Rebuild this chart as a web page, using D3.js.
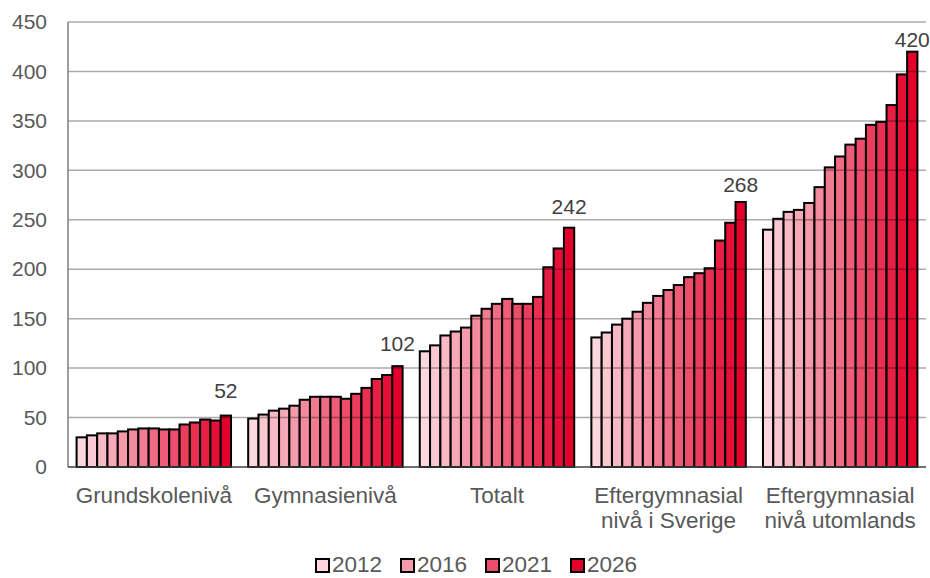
<!DOCTYPE html>
<html>
<head>
<meta charset="utf-8">
<script src="https://cdn.jsdelivr.net/npm/d3@7/dist/d3.min.js"></script>
<style>
  html, body { margin: 0; padding: 0; background: #fff; }
  svg text { font-family: "Liberation Sans", Arial, sans-serif; }
</style>
</head>
<body>
<svg id="chart" width="930" height="578"></svg>
<script>
const categories = [
  ["Grundskolenivå"],
  ["Gymnasienivå"],
  ["Totalt"],
  ["Eftergymnasial", "nivå i Sverige"],
  ["Eftergymnasial", "nivå utomlands"]
];
const years = [2012, 2013, 2014, 2015, 2016, 2017, 2018, 2019, 2020, 2021, 2022, 2023, 2024, 2025, 2026];
const grundskola = [30, 32, 34, 34, 36, 38, 39, 39, 38, 38, 43, 45, 48, 47, 52];
const gymnasium = [49, 53, 57, 59, 62, 68, 71, 71, 71, 69, 74, 80, 89, 93, 102];
const totalt = [117, 123, 133, 137, 141, 153, 160, 165, 170, 165, 165, 172, 202, 221, 242];
const eftergymSverige = [131, 136, 144, 150, 157, 166, 173, 179, 184, 192, 196, 201, 229, 247, 268];
const eftergymUtomlands = [240, 251, 258, 260, 267, 283, 303, 314, 326, 332, 346, 349, 366, 397, 420];
const seriesByCategory = [grundskola, gymnasium, totalt, eftergymSverige, eftergymUtomlands];
const yTicks = [0, 50, 100, 150, 200, 250, 300, 350, 400, 450];
const legendYears = [2012, 2016, 2021, 2026];

const svg = d3.select("#chart");
const textColor = "#595959";
const fontSize = 21;
const bigFont = 22.5;
const labelGaps = [18, 15, 14, 10, 5];

const x0 = d3.scaleBand().domain(d3.range(categories.length)).range([68, 926])
  .paddingInner(0.1).paddingOuter(0.05);
const x1 = d3.scaleBand().domain(years).range([0, x0.bandwidth()]).padding(0);
const y = d3.scaleLinear().domain([0, 450]).range([467, 22]);
const color = d3.scaleLinear().domain([2012, 2026])
  .range(["#fcd7de", "#e3002b"]).interpolate(d3.interpolateRgb);

// y axis
const yAxis = d3.axisLeft(y).tickValues(yTicks).tickSize(0).tickPadding(21);
const gy = svg.append("g").attr("transform", "translate(68,0)").call(yAxis);
gy.select(".domain").remove();
gy.selectAll("text").attr("fill", textColor).style("font-size", fontSize + "px");

// bars
const groups = svg.append("g").selectAll("g").data(seriesByCategory).join("g")
  .attr("transform", (d, i) => `translate(${x0(i)},0)`);
groups.selectAll("rect").data(d => d.map((v, j) => ({ year: years[j], value: v })))
  .join("rect")
  .attr("x", d => x1(d.year))
  .attr("y", d => y(d.value))
  .attr("width", x1.bandwidth())
  .attr("height", d => y(0) - y(d.value))
  .attr("fill", d => color(d.year))
  .attr("stroke", "#000")
  .attr("stroke-width", 2);

// gridlines (drawn over bars, semi-transparent)
svg.append("g").selectAll("line").data(yTicks.filter(t => t > 0)).join("line")
  .attr("x1", 68).attr("x2", 926)
  .attr("y1", d => y(d)).attr("y2", d => y(d))
  .attr("stroke", "#000").attr("stroke-opacity", 0.33).attr("stroke-width", 1.5);

// axes lines
svg.append("line").attr("x1", 68).attr("x2", 68).attr("y1", y(450)).attr("y2", y(0))
  .attr("stroke", "#7f7f7f").attr("stroke-width", 1.5);
svg.append("line").attr("x1", 68).attr("x2", 926).attr("y1", y(0)).attr("y2", y(0))
  .attr("stroke", "#404040").attr("stroke-width", 1.5);

// data labels on last bar
groups.append("text")
  .attr("x", d => x1(years[years.length - 1]) + x1.bandwidth() / 2)
  .attr("y", (d, i) => y(d[d.length - 1]) - labelGaps[i])
  .attr("text-anchor", "middle")
  .attr("fill", "#404040")
  .style("font-size", fontSize + "px")
  .text(d => d[d.length - 1]);

// category labels
const catLabels = svg.append("g").selectAll("text").data(categories).join("text")
  .attr("text-anchor", "middle")
  .attr("fill", textColor)
  .style("font-size", bigFont + "px")
  .attr("transform", (d, i) => `translate(${x0(i) + x0.bandwidth() / 2},503)`);
catLabels.selectAll("tspan").data(d => d).join("tspan")
  .attr("x", 0).attr("dy", (d, i) => i === 0 ? 0 : 25).text(d => d);

// legend
const legend = svg.append("g").selectAll("g").data(legendYears).join("g")
  .attr("transform", (d, i) => `translate(${316 + i * 85},0)`);
legend.append("rect").attr("x", 0).attr("y", 559).attr("width", 13).attr("height", 13)
  .attr("fill", d => color(d)).attr("stroke", "#000").attr("stroke-width", 2);
legend.append("text").attr("x", 16).attr("y", 572)
  .attr("fill", textColor).style("font-size", bigFont + "px").text(d => d);
</script>
</body>
</html>
